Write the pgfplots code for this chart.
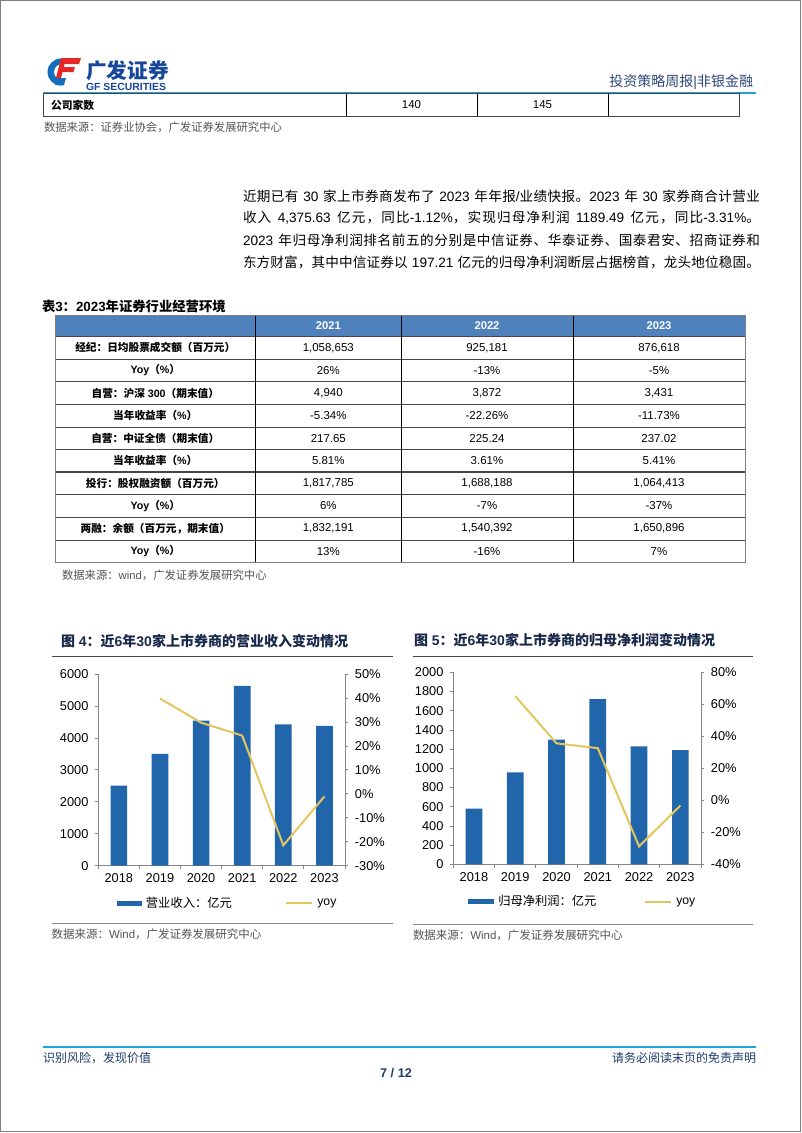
\documentclass[border=0pt]{standalone}
\usepackage{fontspec}
\setmainfont{Liberation Sans}
\newfontfamily\latfam{Liberation Sans}
\newfontfamily\cjkfam{Noto Sans CJK SC}
\usepackage{graphicx}
\usepackage{pgfplots}
\pgfplotsset{compat=1.18}
% automatic font switching between Latin and CJK
\XeTeXinterchartokenstate=1
\newXeTeXintercharclass\CJKclass
\newcount\cjkc
\def\setcjkrange#1#2{\cjkc=#1\relax
  \loop \XeTeXcharclass\cjkc=\CJKclass\relax
  \ifnum\cjkc<#2\relax \advance\cjkc by 1\relax \repeat}
\setcjkrange{"3000}{"303F}
\setcjkrange{"4E00}{"9FFF}
\setcjkrange{"FF00}{"FFEF}
\XeTeXinterchartoks 0 \CJKclass = {\cjkfam}
\XeTeXinterchartoks 4095 \CJKclass = {\cjkfam}
\XeTeXinterchartoks \CJKclass 0 = {\latfam}
\XeTeXinterchartoks \CJKclass 4095 = {\latfam}
\XeTeXinterchartoks \CJKclass \CJKclass = {\hskip0pt plus 0.6pt\relax}

\definecolor{gfline}{RGB}{33,163,219}
\definecolor{gfblue}{RGB}{22,71,155}
\definecolor{logoblue}{RGB}{20,110,190}
\definecolor{logored}{RGB}{228,40,40}
\definecolor{hdrblue}{RGB}{47,72,120}
\definecolor{footblue}{RGB}{30,60,110}
\definecolor{titlenavy}{RGB}{25,40,75}
\definecolor{barblue}{RGB}{33,102,170}
\definecolor{yoycol}{RGB}{228,198,96}
\definecolor{thead}{RGB}{79,129,189}
\definecolor{srcgray}{RGB}{85,85,85}
\definecolor{axgray}{RGB}{134,134,134}
\definecolor{tline}{RGB}{70,70,70}
\definecolor{framegray}{RGB}{128,128,128}

\newcommand\fs[1]{\fontsize{#1}{#1}\selectfont}

\begin{document}
\begin{tikzpicture}[x=0.75pt,y=-0.75pt, t/.style={inner sep=0pt, outer sep=0pt}]
\useasboundingbox (0,0) rectangle (802,1133);
\fill[white] (0,0) rectangle (802,1133);
\draw[framegray, line width=0.9pt] (0.8,0.8) rectangle (800.2,1131.6);

% ---------- header ----------
\begin{scope}
\clip (40,50) rectangle (63,95);
\fill[logoblue, even odd rule] (61,72) circle[radius=13.5] (62,72) circle[radius=8];
\end{scope}
\fill[logoblue] (57,78) -- (66,78) -- (64,85) -- (55,85) -- cycle;
\fill[logored] (63,58) -- (81,58) -- (79,64) -- (61,64) -- cycle;
\fill[logored] (61,67) -- (75,67) -- (73.5,72) -- (60,72) -- cycle;
\fill[logored] (61,58) -- (66,58) -- (61,78) -- (56,78) -- cycle;
\node[t, anchor=west, text=gfblue, font=\bfseries\fs{15.5pt}] at (86,70.5) {广发证券};
\node[t, anchor=west, text=gfblue] at (86,87) {\resizebox{60pt}{5.4pt}{\bfseries GF SECURITIES}};
\node[t, anchor=east, text=hdrblue, font=\fs{10.5pt}] at (753,81.7) {投资策略周报|非银金融};
\draw[gfline, line width=1.5pt] (43,92.5) -- (756,92.5);

% top table row
\fill[white] (43.5,93.5) rectangle (739,116);
\draw[tline, line width=0.6pt] (43.5,93.5) rectangle (739,116);
\foreach \xx in {346,477,608} \draw[black, line width=0.6pt] (\xx,93.5) -- (\xx,116);
\node[t, anchor=west, font=\bfseries\fs{8.1pt}] at (51,105) {公司家数};
\node[t, font=\fs{8.6pt}] at (411.5,105) {140};
\node[t, font=\fs{8.6pt}] at (542.5,105) {145};
\node[t, anchor=west, text=srcgray, font=\fs{8.5pt}] at (44,127) {数据来源：证券业协会，广发证券发展研究中心};

% ---------- paragraph ----------
\begin{scope}[every node/.style={t, anchor=west, font=\fs{10.2pt}}]
\node at (243,196) {\makebox[387.75pt][s]{近期已有 30 家上市券商发布了 2023 年年报/业绩快报。2023 年 30 家券商合计营业}};
\node at (243,218) {\makebox[387.75pt][s]{收入 4,375.63 亿元，同比-1.12\%，实现归母净利润 1189.49 亿元，同比-3.31\%。}};
\node at (243,240) {\makebox[387.75pt][s]{2023 年归母净利润排名前五的分别是中信证券、华泰证券、国泰君安、招商证券和}};
\node at (243,262) {\makebox[387.75pt][s]{东方财富，其中中信证券以 197.21 亿元的归母净利润断层占据榜首，龙头地位稳固。}};
\end{scope}

% ---------- table 3 ----------
\node[t, anchor=west, font=\bfseries\fs{10pt}] at (42,306) {表3：2023年证券行业经营环境};
\fill[thead] (55,315) rectangle (745,336.5);
\foreach \yr/\cx in {2021/328.3,2022/487,2023/659}
  \node[t, text=white, font=\bfseries\fs{8.4pt}] at (\cx,325.75) {\yr};
\foreach \k in {1,2,3,4,5,7,8,9}
  \draw[tline, line width=0.6pt] (55,{336.5+22.6*\k}) -- (745,{336.5+22.6*\k});
\draw[tline, line width=1.3pt] (55,{336.5+22.6*6}) -- (745,{336.5+22.6*6});
\draw[tline, line width=0.7pt] (55,336.5) -- (745,336.5);
\foreach \xx in {255.6,401,573}
  \draw[black, line width=0.7pt] (\xx,315) -- (\xx,562.5);
\draw[framegray, line width=0.6pt] (55,315) rectangle (745,562.5);
\foreach \rw/\lab/\va/\vb/\vc in {
  1/{经纪：日均股票成交额（百万元）}/{1,058,653}/{925,181}/{876,618},
  2/{Yoy（\%）}/{26\%}/{-13\%}/{-5\%},
  3/{自营：沪深 300（期末值）}/{4,940}/{3,872}/{3,431},
  4/{当年收益率（\%）}/{-5.34\%}/{-22.26\%}/{-11.73\%},
  5/{自营：中证全债（期末值）}/{217.65}/{225.24}/{237.02},
  6/{当年收益率（\%）}/{5.81\%}/{3.61\%}/{5.41\%},
  7/{投行：股权融资额（百万元）}/{1,817,785}/{1,688,188}/{1,064,413},
  8/{Yoy（\%）}/{6\%}/{-7\%}/{-37\%},
  9/{两融：余额（百万元，期末值）}/{1,832,191}/{1,540,392}/{1,650,896},
  10/{Yoy（\%）}/{13\%}/{-16\%}/{7\%}}
{
  \node[t, font=\bfseries\fs{8pt}] at (155.3,{325.2+22.6*\rw}) {\lab};
  \node[t, font=\fs{8.6pt}] at (328.3,{325.2+22.6*\rw}) {\va};
  \node[t, font=\fs{8.6pt}] at (487,{325.2+22.6*\rw}) {\vb};
  \node[t, font=\fs{8.6pt}] at (659,{325.2+22.6*\rw}) {\vc};
}
\node[t, anchor=west, text=srcgray, font=\fs{8.5pt}] at (62,575) {数据来源：wind，广发证券发展研究中心};

% ---------- chart titles & rules ----------
\node[t, anchor=west, text=titlenavy, font=\bfseries\fs{10.5pt}] at (61,641) {图 4：近6年30家上市券商的营业收入变动情况};
\draw[tline, line width=0.9pt] (51.7,656.7) -- (392.7,656.7);
\draw[axgray, line width=0.6pt] (51.7,923.3) -- (392.7,923.3);
\node[t, anchor=west, text=srcgray, font=\fs{8.6pt}] at (51.7,934.3) {数据来源：Wind，广发证券发展研究中心};

\node[t, anchor=west, text=titlenavy, font=\bfseries\fs{10.5pt}] at (414,640.5) {图 5：近6年30家上市券商的归母净利润变动情况};
\draw[tline, line width=0.9pt] (412.7,656.7) -- (752.7,656.7);
\draw[axgray, line width=0.6pt] (412.7,924) -- (752.7,924);
\node[t, anchor=west, text=srcgray, font=\fs{8.6pt}] at (413,935) {数据来源：Wind，广发证券发展研究中心};

% ---------- common axis style ----------
\pgfplotsset{gfaxis/.style={
  scale only axis, anchor=south west,
  xmin=-0.5, xmax=5.5,
  tick align=outside, major tick length=2.4pt,
  axis line style={draw=axgray, line width=0.6pt},
  tick style={draw=axgray, line width=0.6pt},
  tick label style={font=\fs{9.6pt}},
  scaled y ticks=false,
  /pgf/number format/1000 sep={},
  /pgf/number format/assume math mode=true,
}}

% ---------- chart 4 ----------
\begin{axis}[gfaxis,
  at={(73.725pt,-649.275pt)}, width=185.025pt, height=143.775pt,
  ymin=0, ymax=6000, ytick={0,1000,...,6000},
  axis x line*=bottom, axis y line*=left,
  xtick={-0.5,0.5,...,5.5}, x tick label as interval,
  xticklabels={2018,2019,2020,2021,2022,2023},
  yticklabel style={xshift=-1.5pt},
  ybar, bar width=12.5pt,
  legend cell align=left,
  legend style={at={(0.0746,-0.196)}, anchor=west, draw=none, fill=none,
    inner sep=0pt, legend columns=2, font=\fs{9.2pt}, nodes={inner sep=0pt},
    /tikz/every odd column/.append style={column sep=3pt},
    /tikz/every even column/.append style={column sep=0pt}},
]
\addplot[fill=barblue, draw=none,
  legend image code/.code={\fill[barblue] (0pt,-1.9pt) rectangle (18.75pt,1.9pt);}]
  coordinates {(0,2504) (1,3500) (2,4540) (3,5630) (4,4425) (5,4376)};
\addlegendentry{\makebox[104pt][l]{营业收入：亿元}}
\addlegendimage{legend image code/.code={\draw[yoycol, line width=1.5pt] (0pt,0pt) -- (20pt,0pt);}}
\addlegendentry{yoy}
\end{axis}
\begin{axis}[gfaxis,
  at={(73.725pt,-649.275pt)}, width=185.025pt, height=143.775pt,
  ymin=-30, ymax=50, ytick={-30,-20,...,50},
  axis x line=none, axis y line*=right,
  yticklabel={\pgfmathprintnumber{\tick}\%},
  yticklabel style={xshift=1.5pt},
]
\addplot[yoycol, line width=1.5pt, mark=none]
  coordinates {(1,39.8) (2,29.7) (3,24.3) (4,-21.5) (5,-1.1)};
\end{axis}

% ---------- chart 5 ----------
\begin{axis}[gfaxis,
  at={(339.975pt,-648.225pt)}, width=185.775pt, height=144pt,
  ymin=0, ymax=2000, ytick={0,200,...,2000},
  axis x line*=bottom, axis y line*=left,
  xtick={-0.5,0.5,...,5.5}, x tick label as interval,
  xticklabels={2018,2019,2020,2021,2022,2023},
  yticklabel style={xshift=-1.5pt},
  ybar, bar width=12.5pt,
  legend cell align=left,
  legend style={at={(0.0593,-0.195)}, anchor=west, draw=none, fill=none,
    inner sep=0pt, legend columns=2, font=\fs{9.2pt}, nodes={inner sep=0pt},
    /tikz/every odd column/.append style={column sep=3pt},
    /tikz/every even column/.append style={column sep=0pt}},
]
\addplot[fill=barblue, draw=none,
  legend image code/.code={\fill[barblue] (0pt,-1.9pt) rectangle (19.5pt,1.9pt);}]
  coordinates {(0,580) (1,958) (2,1300) (3,1722) (4,1228) (5,1189.5)};
\addlegendentry{\makebox[109.5pt][l]{归母净利润：亿元}}
\addlegendimage{legend image code/.code={\draw[yoycol, line width=1.5pt] (0pt,0pt) -- (19.5pt,0pt);}}
\addlegendentry{yoy}
\end{axis}
\begin{axis}[gfaxis,
  at={(339.975pt,-648.225pt)}, width=185.775pt, height=144pt,
  ymin=-40, ymax=80, ytick={-40,-20,...,80},
  axis x line=none, axis y line*=right,
  yticklabel={\pgfmathprintnumber{\tick}\%},
  yticklabel style={xshift=1.5pt},
]
\addplot[yoycol, line width=1.5pt, mark=none]
  coordinates {(1,65.2) (2,35.6) (3,32.6) (4,-28.8) (5,-3.3)};
\end{axis}

% ---------- footer ----------
\draw[gfline, line width=1.5pt] (43,1046.7) -- (756,1046.7);
\node[t, anchor=west, text=footblue, font=\fs{9pt}] at (43,1058) {识别风险，发现价值};
\node[t, anchor=east, text=footblue, font=\fs{9pt}] at (756,1058) {请务必阅读末页的免责声明};
\node[t, text=footblue, font=\bfseries\fs{9.5pt}] at (396,1073.5) {7 / 12};
\end{tikzpicture}
\end{document}
